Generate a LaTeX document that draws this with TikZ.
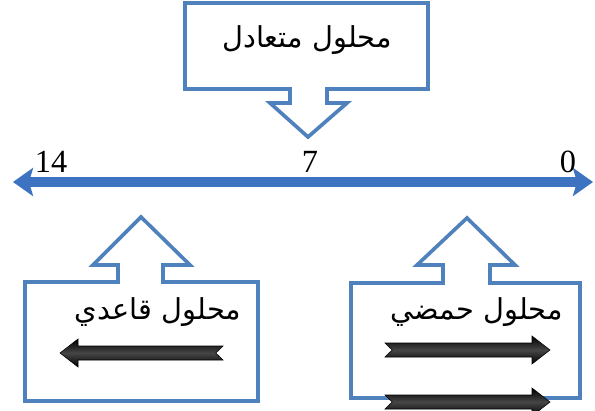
\documentclass[tikz,border=0pt]{standalone}
\usepackage{fontspec}
\usepackage{xcolor}
\usepackage{tikz}
\usetikzlibrary{arrows.meta}
\TeXXeTstate=1
\newfontfamily\arabicfont[Script=Arabic]{DejaVu Sans}
\newfontfamily\numfont{Liberation Serif}
\definecolor{calloutblue}{HTML}{4F81BD}
\definecolor{scaleblue}{HTML}{3D73C1}

% shaded black arrow: tail x, tip x, y
\newcommand{\phArrow}[3]{%
  \pgfmathsetmacro{\hd}{18*sign(#2-#1)}
  \shade[arrowfill] (#1,{#3+7}) -- ({#2-(\hd)},{#3+7}) -- ({#2-(\hd)},{#3+14}) -- (#2,#3)
    -- ({#2-(\hd)},{#3-14}) -- ({#2-(\hd)},{#3-7}) -- (#1,{#3-7}) -- ({#1+0.4*(\hd)},#3) -- cycle;}

\begin{document}
\begin{tikzpicture}[
    x=0.025cm, y=0.025cm,
    callout/.style={draw=calloutblue, line width=2.6pt, line join=miter, fill=white},
    scale line/.style={draw=scaleblue, line width=7pt, {Stealth[length=0.5cm,width=0.7cm,inset=0.1cm]}-{Stealth[length=0.5cm,width=0.7cm,inset=0.1cm]}},
    label/.style={font=\arabicfont\fontsize{20.5}{24}\selectfont, inner sep=0pt},
    tick/.style={font=\numfont\fontsize{23}{27}\selectfont, anchor=base, inner sep=0pt},
    arrowfill/.style={top color=black, bottom color=black, middle color=gray!55!black, draw=black, line width=0.4pt}
]
\useasboundingbox (0,0) rectangle (595,410);
\clip (0,0) rectangle (595,410);

% pH scale
\coordinate (high) at (13,228);
\coordinate (low) at (593,228);
\draw[scale line] (high) -- (low);
\node[tick] (n14) at (51,237) {14};
\node[tick] (n7) at (310,237) {7};
\node[tick] (n0) at (568,237) {0};

% neutral callout
\draw[callout] (185,407) -- (428,407) -- (428,321) -- (327,321) -- (327,307) -- (347,307) -- (308,273)
    -- (270,307) -- (290,307) -- (290,321) -- (185,321) -- cycle;
\node[label] (neutral) at (307,370) {\beginR محلول متعادل\endR};

% basic callout
\draw[callout] (25,9) -- (258,9) -- (258,128) -- (163,128) -- (163,145) -- (190,145) -- (141,193)
    -- (93,145) -- (118,145) -- (118,128) -- (25,128) -- cycle;
\node[label] (basic) at (158,98) {\beginR محلول قاعدي\endR};
\phArrow{223}{60}{57}

% acidic callout
\draw[callout] (351,12) -- (580,12) -- (580,127) -- (490,127) -- (490,145) -- (515,145) -- (467,192)
    -- (417,145) -- (443,145) -- (443,127) -- (351,127) -- cycle;
\node[label] (acidic) at (477,98) {\beginR محلول حمضي\endR};
\phArrow{385}{550}{60}
\phArrow{385}{550}{8}
\end{tikzpicture}
\end{document}
